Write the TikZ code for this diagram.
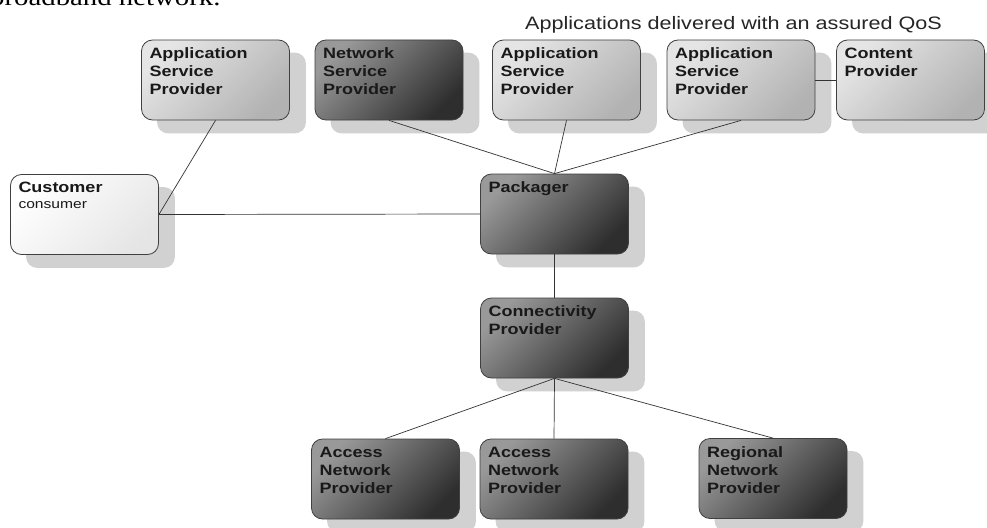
\documentclass[tikz,border=0pt]{standalone}
\usepackage{fontspec}
\setmainfont{Liberation Sans}
\newfontfamily\boxfont{Liberation Sans}[FakeStretch=1.2]
\newfontfamily\introfont{Liberation Serif}[FakeStretch=1.2]
\usetikzlibrary{backgrounds}

% text of a provider box: set from its top-left corner
\newcommand\boxtext[1]{\parbox[t][64pt][t]{132pt}{\raggedright #1}}

\begin{document}
\begin{tikzpicture}[x=1pt, y=-1pt,
  box/.style={draw=black!75, line width=0.8pt, rounded corners=11pt,
    inner xsep=8pt, inner ysep=8pt, text=black!90,
    font=\boxfont\bfseries\fontsize{15}{18}\selectfont},
  darkbox/.style={box, top color=black!40, bottom color=black!82, shading angle=45},
  lightbox/.style={box, top color=black!10, bottom color=black!30, shading angle=45},
  paperbox/.style={box, top color=white, bottom color=black!10, shading angle=45},
  link/.style={draw=black!80, line width=0.7pt},
  shadowbox/.style={fill=black!18, rounded corners=11pt}]

\useasboundingbox (0,0) rectangle (987,527);

% sentence running into the figure from above
\node[anchor=base west, inner sep=0pt, font=\introfont\fontsize{24}{26}\selectfont]
  (intro) at (-10,6) {broadband network.};

\node[anchor=base west, inner sep=0pt, text=black!85,
  font=\boxfont\fontsize{18}{20}\selectfont]
  (qos) at (525,30) {Applications delivered with an assured QoS};

% service providers
\node[lightbox] (asp1) at (215.5,80) {\boxtext{Application\\Service\\Provider}};
\node[darkbox]  (nsp)  at (389,80)   {\boxtext{Network\\Service\\Provider}};
\node[lightbox] (asp2) at (566.5,80) {\boxtext{Application\\Service\\Provider}};
\node[lightbox] (asp3) at (741,80)   {\boxtext{Application\\Service\\Provider}};
\node[lightbox] (cont) at (910.5,80) {\boxtext{Content\\Provider}};

% customer and packager
\node[paperbox] (cust) at (84.5,214.5)
  {\boxtext{Customer\\[-2pt]{\mdseries\fontsize{13}{16}\selectfont consumer}}};
\node[darkbox] (pack) at (554.5,214) {\boxtext{Packager}};

% connectivity
\node[darkbox] (conn) at (554.5,338) {\boxtext{Connectivity\\Provider}};
\node[darkbox] (acc1) at (385.5,479) {\boxtext{Access\\Network\\Provider}};
\node[darkbox] (acc2) at (554,479)   {\boxtext{Access\\Network\\Provider}};
\node[darkbox] (reg)  at (773,478.5) {\boxtext{Regional\\Network\\Provider}};

% page and drop shadows behind the boxes
\begin{scope}[on background layer]
  \fill[white] (0,0) rectangle (987,527);
  \foreach \n in {asp1,nsp,asp2,asp3,cont,cust,pack,conn,acc1,acc2,reg}
    \fill[shadowbox] ([shift={(16,13)}]\n.north west) rectangle ([shift={(16,13)}]\n.south east);
\end{scope}

% relations
\draw[link] (asp1.south) -- (cust.east);
\draw[link] (cust.east) -- (pack.west);
\draw[link] (nsp.south) -- (pack.north);
\draw[link] (asp2.south) -- (pack.north);
\draw[link] (asp3.south) -- (pack.north);
\draw[link] (asp3.east) -- (cont.west);
\draw[link] (pack.south) -- (conn.north);
\draw[link] (conn.south) -- (acc1.north);
\draw[link] (conn.south) -- (acc2.north);
\draw[link] (conn.south) -- (reg.north);

\end{tikzpicture}
\end{document}
